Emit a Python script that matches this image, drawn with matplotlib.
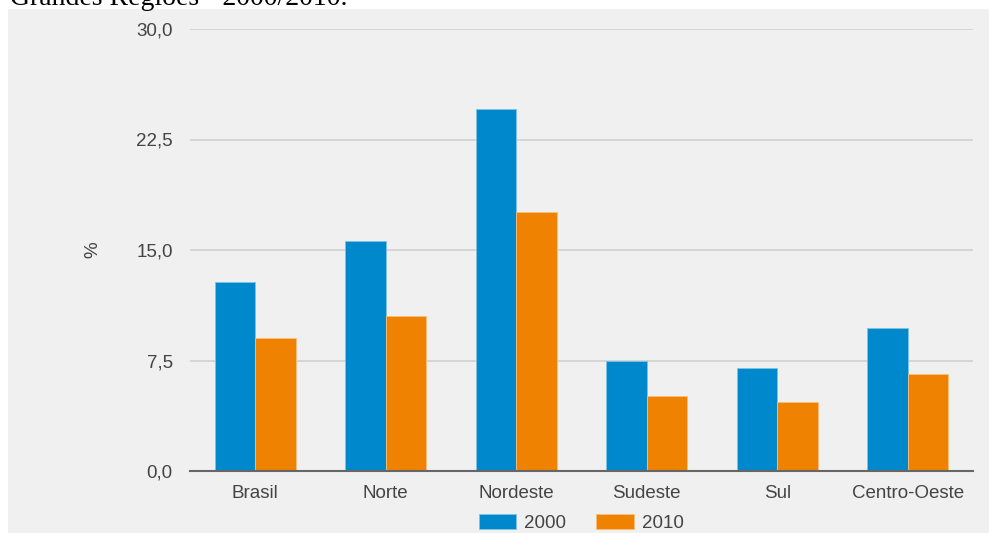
import matplotlib.pyplot as plt
import numpy as np

regioes = ["Brasil", "Norte", "Nordeste", "Sudeste", "Sul", "Centro-Oeste"]
valores_2000 = [12.8, 15.6, 24.6, 7.5, 7.0, 9.7]
valores_2010 = [9.0, 10.5, 17.6, 5.1, 4.7, 6.6]
yticks = [0.0, 7.5, 15.0, 22.5, 30.0]
ytick_labels = ["0,0", "7,5", "15,0", "22,5", "30,0"]

plt.rcParams['font.family'] = ['Liberation Sans', 'DejaVu Sans']

fig = plt.figure(figsize=(9.89, 5.33), dpi=100)
fig.patch.set_facecolor('white')

# fundo cinza do gráfico
bg = fig.add_axes([8 / 989, 0, 981 / 989, 524 / 533], zorder=-10)
bg.set_facecolor('#f0f0f0')
bg.set_xticks([])
bg.set_yticks([])
for s in bg.spines.values():
    s.set_visible(False)

# título cortado no topo
fig.text(10 / 989, 1 - 5 / 533, "Grandes Regiões - 2000/2010.", family='Liberation Serif',
         fontsize=20, color='black', va='baseline', ha='left')

ax = fig.add_axes([190 / 989, 62 / 533, 783 / 989, 442 / 533])
ax.set_facecolor('none')

x = np.arange(len(regioes))
w = 0.31
ax.bar(x - w / 2, valores_2000, w, color='#0088cc', edgecolor='#7fc3e5', linewidth=0.6,
       label='2000', zorder=3)
ax.bar(x + w / 2, valores_2010, w, color='#ef8200', edgecolor='#f7c080', linewidth=0.6,
       label='2010', zorder=3)

ax.set_xlim(-0.5, len(regioes) - 0.5)
ax.set_ylim(0, 30)
ax.set_yticks(yticks)
ax.set_yticklabels(ytick_labels)
ax.set_xticks(x)
ax.set_xticklabels(regioes)
ax.tick_params(axis='both', length=0, labelsize=13.5, colors='#444444')
ax.tick_params(axis='y', pad=12.5)
ax.tick_params(axis='x', pad=10)
ax.grid(axis='y', color='#d0d0d0', linewidth=1.2, zorder=0)

for s in ['top', 'right', 'left']:
    ax.spines[s].set_visible(False)
ax.spines['bottom'].set_color('#666666')
ax.spines['bottom'].set_linewidth(1.5)
ax.spines['bottom'].set_zorder(4)

fig.text(93 / 989, 1 - 250 / 533, "%", rotation=90, fontsize=13.5, color='#444444',
         ha='center', va='center')

ax.legend(loc='center', bbox_to_anchor=(581 / 989, 10 / 533), bbox_transform=fig.transFigure,
          ncol=2, frameon=False, fontsize=13.5, handlelength=2.0, handleheight=0.8,
          columnspacing=1.6, handletextpad=0.43, labelcolor='#444444')

plt.savefig('out.png', dpi=100)
